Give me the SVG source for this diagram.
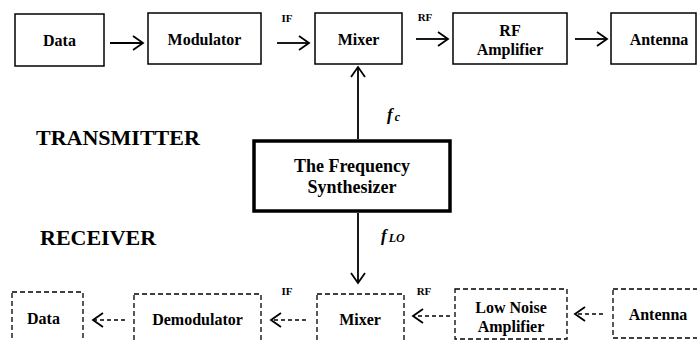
<svg xmlns="http://www.w3.org/2000/svg" width="697" height="340" viewBox="0 0 697 340" font-family="'Liberation Serif', 'DejaVu Serif', serif">
<style>
text{font-family:'Liberation Serif','DejaVu Serif',serif;font-weight:bold;fill:#000}
.lbl{font-size:16px;text-anchor:middle}
.sm{font-size:11px;text-anchor:middle}
.big{font-size:22px}
.box{fill:#fff;stroke:#000;stroke-width:1.5}
.dbox{fill:#fff;stroke:#000;stroke-width:1.3;stroke-dasharray:5,3}
.conn{fill:none;stroke:#000;stroke-width:1.8}
.dconn{fill:none;stroke:#000;stroke-width:1.5;stroke-dasharray:4,3}
.fi{font-style:italic}
</style>
<defs>
<marker id="chev" markerUnits="userSpaceOnUse" markerWidth="14" markerHeight="18" viewBox="0 -9 14 18" refX="12" refY="0" orient="auto">
<path d="M2,-7 L12,0 L2,7" fill="none" stroke="#000" stroke-width="1.8"/>
</marker>
</defs>
<rect width="697" height="340" fill="#fff"/>

<g id="tx-data"><rect class="box" x="15" y="14" width="89" height="52"/><text class="lbl" x="59.5" y="46">Data</text></g>
<g id="tx-modulator"><rect class="box" x="148" y="13" width="113" height="51"/><text class="lbl" x="204.5" y="45">Modulator</text></g>
<g id="tx-mixer"><rect class="box" x="315" y="13" width="87" height="51"/><text class="lbl" x="358.5" y="45">Mixer</text></g>
<g id="tx-rfamp"><rect class="box" x="453" y="13" width="114" height="51"/><text class="lbl" x="510" y="36">RF</text><text class="lbl" x="510" y="55">Amplifier</text></g>
<g id="tx-antenna"><rect class="box" x="611" y="13" width="85" height="51"/><text class="lbl" x="659" y="45">Antenna</text></g>

<g id="synth"><rect x="254" y="141" width="196" height="70" fill="#fff" stroke="#000" stroke-width="3.5"/><text x="352" y="172" font-size="18" text-anchor="middle">The Frequency</text><text x="352" y="193" font-size="18" text-anchor="middle">Synthesizer</text></g>

<g id="labels">
<text class="big" x="36" y="145">TRANSMITTER</text>
<text class="big" x="40" y="245">RECEIVER</text>
<text class="sm" x="287" y="22">IF</text>
<text class="sm" x="425" y="21">RF</text>
<text class="sm" x="287" y="295">IF</text>
<text class="sm" x="424" y="295">RF</text>
<text class="fi" x="387" y="120" font-size="17">f<tspan font-size="12" dx="2" dy="1">c</tspan></text>
<text class="fi" x="381" y="241" font-size="17">f<tspan font-size="12" dx="2" dy="1">LO</tspan></text>
</g>

<g id="rx-data"><rect class="dbox" x="12" y="292" width="71" height="60"/><text class="lbl" x="43.5" y="324">Data</text></g>
<g id="rx-demodulator"><rect class="dbox" x="134" y="294" width="127" height="60"/><text class="lbl" x="197.5" y="325">Demodulator</text></g>
<g id="rx-mixer"><rect class="dbox" x="317" y="294" width="87" height="60"/><text class="lbl" x="360" y="325">Mixer</text></g>
<g id="rx-lna"><rect class="dbox" x="455" y="289" width="112" height="50"/><text class="lbl" x="511" y="313">Low Noise</text><text class="lbl" x="511" y="332">Amplifier</text></g>
<g id="rx-antenna"><rect class="dbox" x="613" y="289" width="90" height="49"/><text class="lbl" x="658" y="320">Antenna</text></g>

<g id="connectors">
<line class="conn" x1="110" y1="43" x2="143" y2="43" marker-end="url(#chev)"/>
<line class="conn" x1="277" y1="43" x2="309" y2="43" marker-end="url(#chev)"/>
<line class="conn" x1="416" y1="39" x2="448" y2="39" marker-end="url(#chev)"/>
<line class="conn" x1="575" y1="39" x2="607" y2="39" marker-end="url(#chev)"/>
<line class="conn" x1="358" y1="139" x2="358" y2="67" marker-end="url(#chev)"/>
<line class="conn" x1="358" y1="213" x2="358" y2="283" marker-end="url(#chev)"/>
<line class="dconn" x1="125" y1="320" x2="93" y2="320" marker-end="url(#chev)"/>
<line class="dconn" x1="306" y1="320" x2="271" y2="320" marker-end="url(#chev)"/>
<line class="dconn" x1="450" y1="316" x2="413" y2="316" marker-end="url(#chev)"/>
<line class="dconn" x1="603" y1="314" x2="575" y2="314" marker-end="url(#chev)"/>
</g>
</svg>
